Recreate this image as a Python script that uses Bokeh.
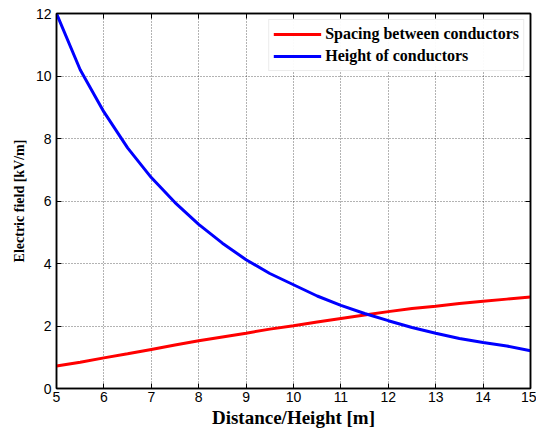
from bokeh.plotting import figure
from bokeh.models import LinearAxis, Range1d, Legend, LegendItem, FixedTicker
from bokeh.embed import file_html
from bokeh.resources import INLINE

x = [5, 5.5, 6, 6.5, 7, 7.5, 8, 8.5, 9, 9.5, 10, 10.5, 11, 11.5, 12, 12.5, 13, 13.5, 14, 14.5, 15]
spacing = [0.72, 0.84, 0.98, 1.11, 1.25, 1.39, 1.53, 1.65, 1.77, 1.90, 2.01, 2.13, 2.24, 2.35, 2.46, 2.56, 2.63, 2.72, 2.79, 2.86, 2.93]
height = [12.0, 10.2, 8.85, 7.7, 6.75, 5.95, 5.25, 4.65, 4.12, 3.68, 3.32, 2.96, 2.66, 2.40, 2.17, 1.95, 1.77, 1.60, 1.47, 1.36, 1.21]
x_ticks = [5, 6, 7, 8, 9, 10, 11, 12, 13, 14, 15]
y_ticks = [0, 2, 4, 6, 8, 10, 12]

p = figure(width=536, height=434, output_backend="svg", toolbar_location=None,
           x_range=Range1d(5, 15), y_range=Range1d(0, 12),
           min_border_left=56, min_border_right=6, min_border_top=13, min_border_bottom=46)
p.background_fill_color = "white"
p.border_fill_color = "white"
p.outline_line_color = "black"
p.outline_line_width = 1.5

r1 = p.line(x, spacing, line_color="#ff0000", line_width=3)
r2 = p.line(x, height, line_color="#0000ff", line_width=3)

for ax in (p.xaxis[0], p.yaxis[0]):
    ax.major_tick_in = 5
    ax.major_tick_out = 0
    ax.minor_tick_line_color = None
    ax.axis_line_color = "black"
    ax.axis_line_width = 1.5
    ax.major_label_text_font = "Liberation Sans"
    ax.major_label_text_font_size = "14px"
    ax.major_label_text_color = "black"
    ax.axis_label_text_font = "Liberation Serif"
    ax.axis_label_text_font_style = "bold"
    ax.axis_label_text_color = "black"

p.xaxis[0].ticker = FixedTicker(ticks=x_ticks)
p.yaxis[0].ticker = FixedTicker(ticks=y_ticks)
p.xaxis[0].axis_label = "Distance/Height [m]"
p.xaxis[0].axis_label_text_font_size = "19px"
p.xaxis[0].major_label_standoff = 3
p.xaxis[0].axis_label_standoff = 2
p.yaxis[0].axis_label = "Electric field [kV/m]"
p.yaxis[0].axis_label_text_font_size = "14px"
p.yaxis[0].major_label_standoff = 5
p.yaxis[0].axis_label_standoff = 6

for loc, ticks in (("right", y_ticks), ("above", x_ticks)):
    a = LinearAxis(ticker=FixedTicker(ticks=ticks))
    a.major_tick_in = 5
    a.major_tick_out = 0
    a.minor_tick_line_color = None
    a.major_label_overrides = {t: "" for t in ticks}
    a.major_label_text_font_size = "1px"
    a.major_label_standoff = 0
    a.axis_line_color = "black"
    a.axis_line_width = 1.5
    p.add_layout(a, loc)

p.xgrid.ticker = FixedTicker(ticks=x_ticks)
p.ygrid.ticker = FixedTicker(ticks=y_ticks)
for g in (p.xgrid[0], p.ygrid[0]):
    g.grid_line_color = "black"
    g.grid_line_alpha = 0.6
    g.grid_line_dash = "1 2"
    g.grid_line_width = 1

legend = Legend(items=[LegendItem(label="Spacing between conductors", renderers=[r1]),
                       LegendItem(label="Height of conductors", renderers=[r2])],
                location="top_right")
legend.label_text_font = "Liberation Serif"
legend.label_text_font_style = "bold"
legend.label_text_font_size = "16px"
legend.label_text_color = "black"
legend.glyph_width = 48
legend.glyph_height = 20
legend.label_height = 20
legend.spacing = 2
legend.padding = 4
legend.margin = 6
legend.border_line_color = "#d8d8d8"
legend.border_line_width = 1
legend.label_standoff = 4
p.add_layout(legend)

open("out.html", "w").write(file_html(p, INLINE))
